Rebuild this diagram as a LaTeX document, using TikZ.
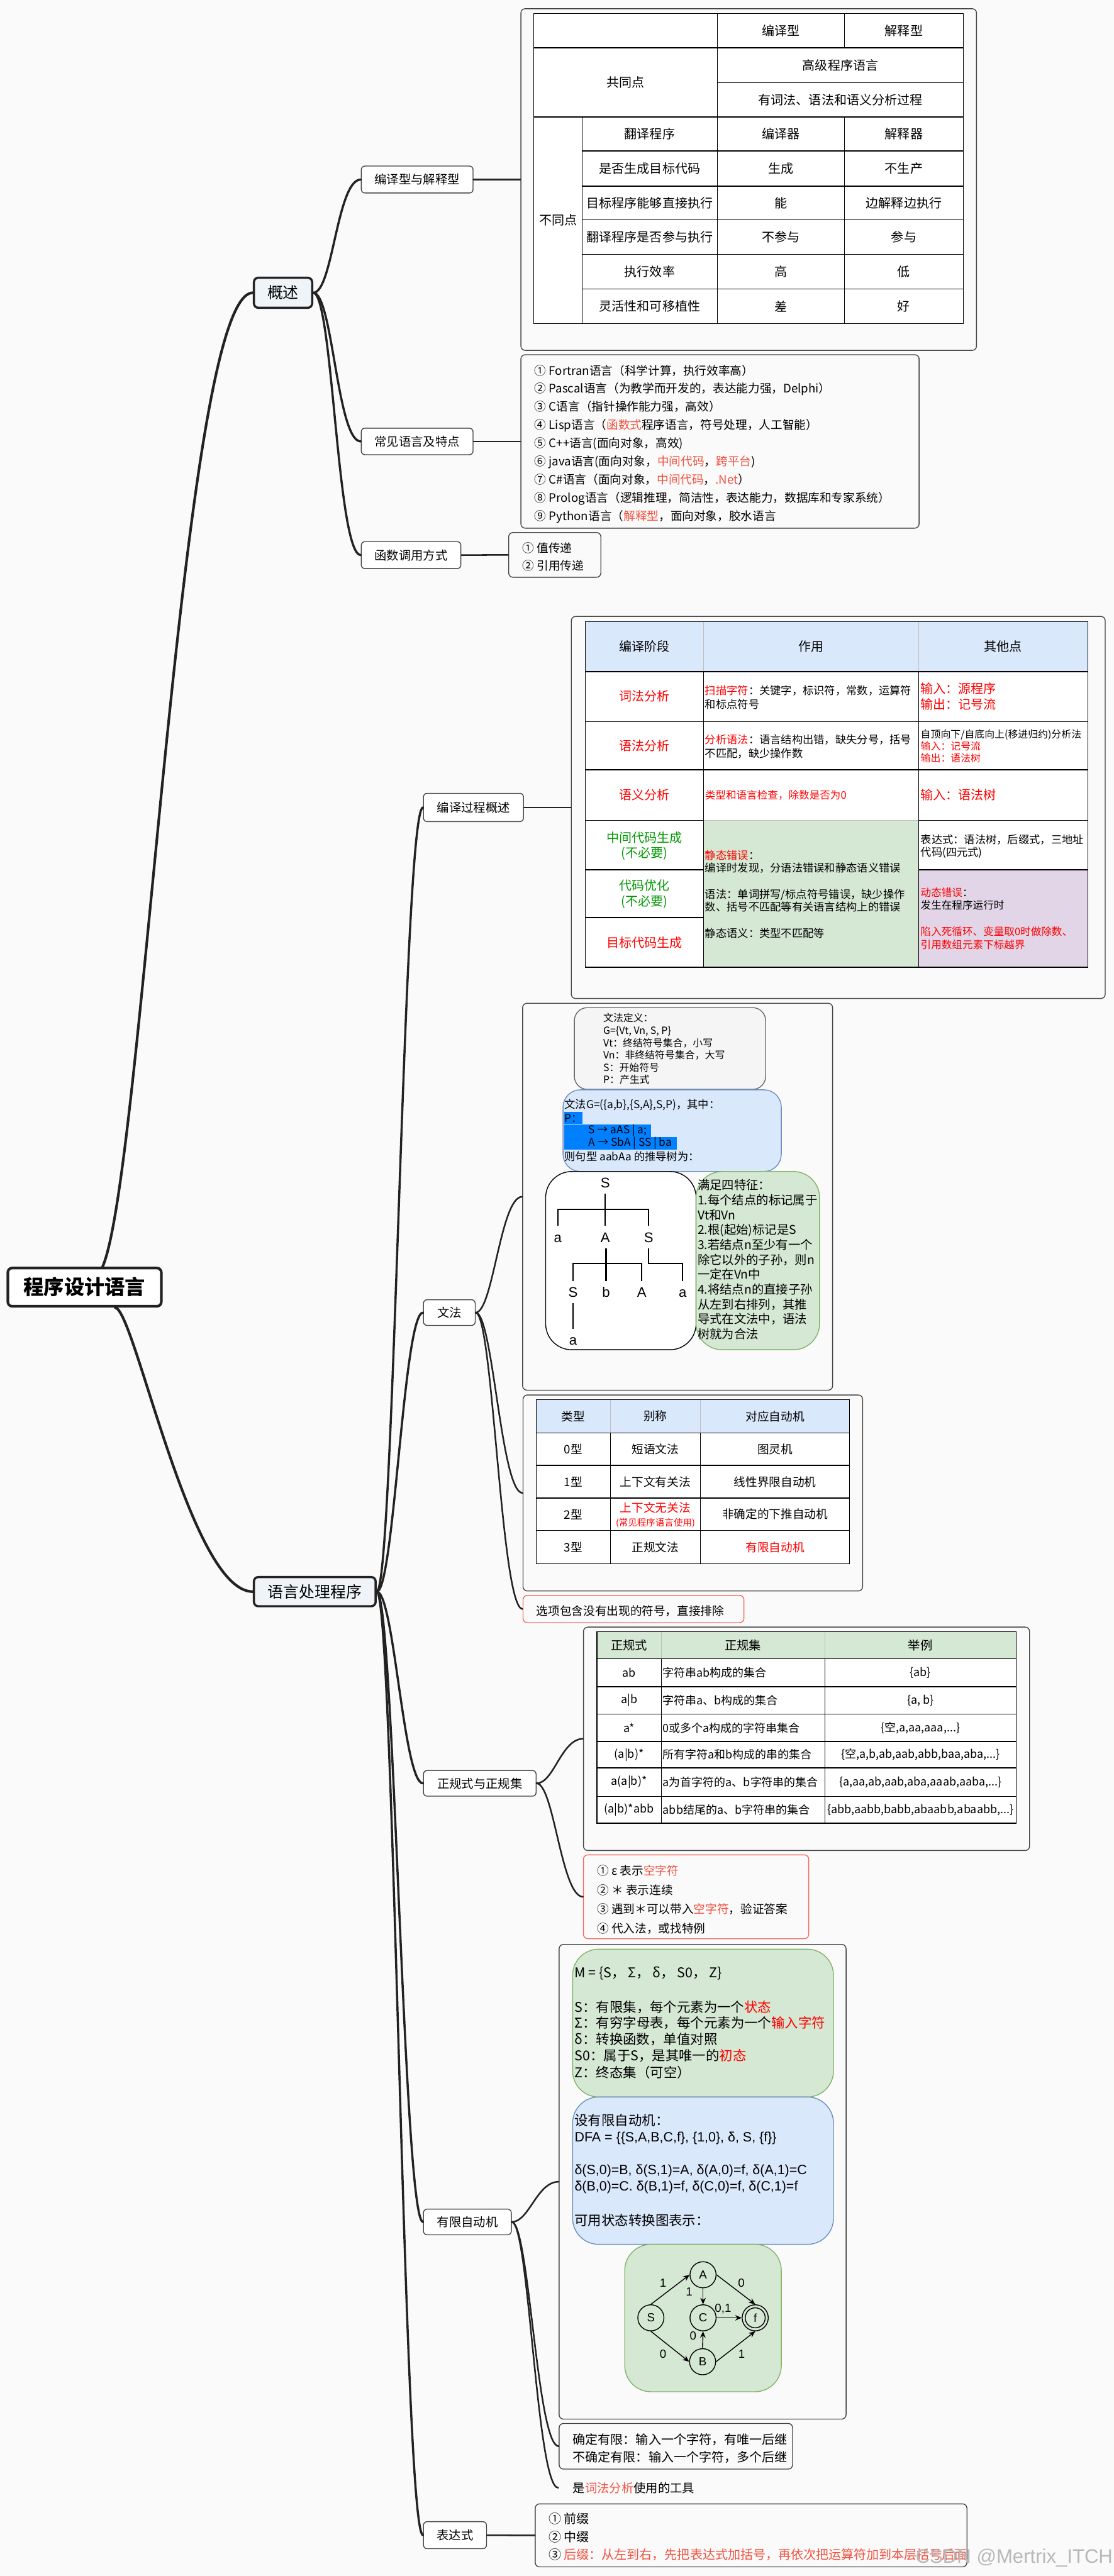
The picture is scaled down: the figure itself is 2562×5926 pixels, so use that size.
\documentclass[tikz,border=0pt]{standalone}
\usepackage{fontspec}
\setmainfont{Noto Sans CJK SC}
\newfontfamily\lsans{Liberation Sans}
\usetikzlibrary{arrows.meta,calc}
\definecolor{bgc}{HTML}{FAFAFA}
\definecolor{lc}{HTML}{222222}
\definecolor{xred}{HTML}{F2503E}
\definecolor{tred}{HTML}{FF0000}
\definecolor{tgreen}{HTML}{009900}
\definecolor{bfill}{HTML}{DAE8FC}
\definecolor{bline}{HTML}{6C8EBF}
\definecolor{gfill}{HTML}{D5E8D4}
\definecolor{gline}{HTML}{82B366}
\definecolor{pfill}{HTML}{E1D5E7}
\definecolor{grfill}{HTML}{F5F5F5}
\definecolor{grline}{HTML}{666666}
\definecolor{hl}{HTML}{007FFF}
\definecolor{mfill}{HTML}{EEF4F8}
\definecolor{rbox}{HTML}{F26B5E}
\newcommand\tr[1]{\textcolor{tred}{#1}}
\newcommand\xr[1]{\textcolor{xred}{#1}}
\newcommand\tg[1]{\textcolor{tgreen}{#1}}
\tikzset{
  fs/.style 2 args={font=\fontsize{#1}{#2}\selectfont},
  rootnode/.style={draw=lc, line width=1.8pt, fill=white, rounded corners=3pt, inner sep=0pt, font=\fontsize{14}{16}\selectfont\bfseries},
  mainnode/.style={draw=lc, line width=1.5pt, fill=mfill, rounded corners=3pt, inner sep=0pt, font=\fontsize{10.8}{13}\selectfont},
  subnode/.style={draw=lc!85, line width=0.6pt, fill=white, rounded corners=2.5pt, inner sep=0pt, font=\fontsize{8.4}{10}\selectfont},
  panel/.style={draw=lc!85, line width=0.6pt, fill=bgc, rounded corners=3pt, inner sep=0pt},
  redpanel/.style={draw=rbox, line width=0.6pt, fill=bgc, rounded corners=3pt, inner sep=0pt},
  cA/.style={draw=lc, line width=1.8pt, line cap=round},
  cB/.style={draw=lc, line width=1.5pt, line cap=round},
  cC/.style={draw=lc, line width=1.1pt, line cap=round},
  grid/.style={draw=black, line width=0.6pt},
  lgrid/.style={draw=black!25, line width=0.6pt},
  cell/.style={inner sep=0pt, align=center},
  lbl/.style={inner sep=0pt, anchor=west},
  ml/.style={inner sep=0pt, anchor=north west, align=left},
  tn/.style={inner sep=0pt, text height=6.9pt, text depth=0pt, minimum height=15pt, font=\lsans\fontsize{9.6}{11}\selectfont},
  tl/.style={draw=black, line width=0.9pt},
  st/.style={circle, draw=black, line width=0.6pt, minimum size=18pt, inner sep=0pt, font=\lsans\fontsize{8.1}{9}\selectfont},
  el/.style={inner sep=0pt, font=\lsans\fontsize{8.1}{9}\selectfont},
  dfa/.style={draw=black, line width=0.6pt, -{Stealth[length=4.5pt,width=3.8pt]}},
  roundbox/.style={line width=0.6pt, inner sep=0pt, rounded corners=#1},
}
\begin{document}
\begin{tikzpicture}[x=0.3pt,y=-0.3pt]
\fill[bgc] (0,0) rectangle (2562,5926);
\useasboundingbox (0,0) rectangle (2562,5926);

% ---------- topic nodes ----------
\node[rootnode, minimum width=105.9pt, minimum height=26.4pt] (root) at (194.5,2961) {程序设计语言};
\node[mainnode, minimum width=40.2pt, minimum height=20.7pt] (gs) at (651,673.5) {概述};
\node[mainnode, minimum width=84pt, minimum height=20.1pt] (yy) at (724,3661.5) {语言处理程序};

\node[subnode, minimum width=77.1pt, minimum height=18.6pt] (n1) at (959.5,413) {编译型与解释型};
\node[subnode, minimum width=77.1pt, minimum height=18.3pt] (n2) at (959.5,1015.5) {常见语言及特点};
\node[subnode, minimum width=68.7pt, minimum height=18.6pt] (n3) at (945.5,1277) {函数调用方式};
\node[subnode, minimum width=69pt, minimum height=19.5pt] (m1) at (1089,1857.5) {编译过程概述};
\node[subnode, minimum width=35.7pt, minimum height=17.7pt] (m2) at (1033.5,3019.5) {文法};
\node[subnode, minimum width=77.7pt, minimum height=17.7pt] (m3) at (1103.5,4102.5) {正规式与正规集};
\node[subnode, minimum width=60.6pt, minimum height=17.7pt] (m4) at (1075,5111.5) {有限自动机};
\node[subnode, minimum width=43.5pt, minimum height=18.6pt] (m5) at (1046.5,5832) {表达式};

% ---------- panels ----------
\node[panel, minimum width=314.4pt, minimum height=235.8pt] (p1) at (1722,413) {};
\node[panel, minimum width=274.8pt, minimum height=119.7pt] (p2) at (1656,1015.5) {};
\node[panel, minimum width=63.6pt, minimum height=30.9pt] (p3) at (1276,1276.5) {};
\node[panel, minimum width=368.4pt, minimum height=263.7pt] (p4) at (1928,1857.5) {};
\node[panel, minimum width=213.9pt, minimum height=267pt] (p5) at (1558.5,2753) {};
\node[panel, minimum width=234.3pt, minimum height=135.3pt] (p6) at (1593.5,3434.5) {};
\node[redpanel, minimum width=152.4pt, minimum height=18.9pt] (p7) at (1457,3701.5) {};
\node[panel, minimum width=307.8pt, minimum height=154.2pt] (p8) at (1855,4000) {};
\node[redpanel, minimum width=155.4pt, minimum height=57.9pt] (p9) at (1601,4363.5) {};
\node[panel, minimum width=198pt, minimum height=327.6pt] (p10) at (1616,5019) {};
\node[panel, minimum width=161.1pt, minimum height=31.5pt] (p11) at (1554.5,5627.5) {};
\node[anchor=west, inner xsep=9.9pt, inner ysep=0pt, fs={8.4}{10}] (p12) at (1284,5723) {是\xr{词法分析}使用的工具};
\node[panel, minimum width=297.9pt, minimum height=43.5pt] (p13) at (1727.5,5832.5) {};

% ---------- connectors ----------
\draw[cA] ($(root.north)+(41.5,0)$) .. controls +(94,-217) and +(-164,0) .. (gs.west);
\draw[cA] ($(root.south)+(70.5,0)$) .. controls +(45,5) and +(-144,0) .. (yy.west);
\foreach \t in {n1,n2,n3} \draw[cB] (gs.east) .. controls +(45,0) and +(-55,0) .. (\t.west);
\foreach \t in {m1,m2,m3,m4,m5} \draw[cB] (yy.east) .. controls +(40,0) and +(-45,0) .. (\t.west);
\draw[cC] (n1.east) -- (p1.west);
\draw[cC] (n2.east) -- (p2.west);
\draw[cC] (n3.east) -- (p3.west);
\draw[cC] (m1.east) -- (p4.west);
\foreach \t in {p5,p6,p7} \draw[cC] (m2.east) .. controls +(40,0) and +(-50,0) .. (\t.west);
\foreach \t in {p8,p9} \draw[cC] (m3.east) .. controls +(40,0) and +(-50,0) .. (\t.west);
\foreach \t in {p10,p11,p12} \draw[cC] (m4.east) .. controls +(40,0) and +(-50,0) .. (\t.west);
\draw[cC] (m5.east) -- (p13.west);

% ---------- table 1 ----------
\fill[white] (1228,31) rectangle (2216,744);
\draw[grid] (1228,31) rectangle (2216,744);
\draw[grid] (1228,110) -- (2216,110);
\draw[grid] (1650,190) -- (2216,190);
\draw[grid] (1228,269) -- (2216,269);
\foreach \y in {347,428,506,585,665} \draw[grid] (1339,\y) -- (2216,\y);
\draw[grid] (1339,269) -- (1339,744);
\draw[grid] (1650,31) -- (1650,744);
\draw[grid] (1942,31) -- (1942,110);
\draw[grid] (1942,269) -- (1942,744);
\begin{scope}[every node/.style={cell, fs={8.7}{10}}]
\node (h1) at (1796,70.5) {编译型};
\node (h2) at (2079,70.5) {解释型};
\node (g0) at (1439,190) {共同点};
\node (g1) at (1933,150) {高级程序语言};
\node (g2) at (1933,229.5) {有词法、语法和语义分析过程};
\node (d0) at (1283.5,506) {不同点};
\foreach \y/\a/\b/\c [count=\i] in {308/翻译程序/编译器/解释器, 387.5/是否生成目标代码/生成/不生产, 467/目标程序能够直接执行/能/边解释边执行, 545.5/翻译程序是否参与执行/不参与/参与, 625/执行效率/高/低, 704.5/灵活性和可移植性/差/好}{
  \node (ra\i) at (1494.5,\y) {\a};
  \node (rb\i) at (1796,\y) {\b};
  \node (rc\i) at (2079,\y) {\c};
}
\end{scope}

% ---------- languages ----------
\node[ml, fs={8.1}{12.56}] (langs) at (1229,838.5) {%
① Fortran语言（科学计算，执行效率高）\\
② Pascal语言（为教学而开发的，表达能力强，Delphi）\\
③ C语言（指针操作能力强，高效）\\
④ Lisp语言（\xr{函数式}程序语言，符号处理，人工智能）\\
⑤ C++语言(面向对象，高效)\\
⑥ java语言(面向对象，\xr{中间代码}，\xr{跨平台})\\
⑦ C\#语言（面向对象，\xr{中间代码}，\xr{.Net}）\\
⑧ Prolog语言（逻辑推理，简洁性，表达能力，数据库和专家系统）\\
⑨ Python语言（\xr{解释型}，面向对象，胶水语言};
\node[ml, fs={8.1}{12.3}] (calls) at (1201,1247.5) {① 值传递\\② 引用传递};

% ---------- compile table ----------
\fill[white] (1346,1430) rectangle (2502,2225);
\fill[bfill] (1346,1430) rectangle (2502,1545);
\fill[gfill] (1618,1887) rectangle (2113,2225);
\fill[pfill] (2113,2001) rectangle (2502,2225);
\draw[lgrid] (1618,1430) -- (1618,1545);
\draw[lgrid] (2113,1430) -- (2113,1545);
\draw[lgrid] (1618,1887) -- (2113,1887);
\draw[grid] (1346,1430) rectangle (2502,2225);
\foreach \y in {1545,1660,1771} \draw[grid] (1346,\y) -- (2502,\y);
\draw[grid] (1346,1887) -- (1618,1887);
\draw[grid] (2113,1887) -- (2502,1887);
\draw[grid] (1346,2001) -- (1618,2001);
\draw[grid] (2113,2001) -- (2502,2001);
\draw[grid] (1346,2111) -- (1618,2111);
\draw[grid] (1618,1545) -- (1618,2225);
\draw[grid] (2113,1545) -- (2113,2225);
\begin{scope}[every node/.append style={fs={8.7}{10.8}}]
\node[cell] (ch1) at (1482,1487) {编译阶段};
\node[cell] (ch2) at (1865.5,1487) {作用};
\node[cell] (ch3) at (2307.5,1487) {其他点};
\node[cell] (cs1) at (1482,1602) {\tr{词法分析}};
\node[cell] (cs2) at (1482,1715) {\tr{语法分析}};
\node[cell] (cs3) at (1482,1829) {\tr{语义分析}};
\node[cell] (cs4) at (1482,1946) {\tg{中间代码生成}\\\tg{(不必要)}};
\node[cell] (cs5) at (1482,2057) {\tg{代码优化}\\\tg{(不必要)}};
\node[cell] (cs6) at (1482,2169) {\tr{目标代码生成}};
\node[ml] (co1) at (2117,1570.5) {\tr{输入：源程序}\\\tr{输出：记号流}};
\node[lbl] (co3) at (2117,1829) {\tr{输入：语法树}};
\end{scope}
\node[ml, fs={7.5}{9.6}] (cw1) at (1621,1575.5) {\tr{扫描字符}：关键字，标识符，常数，运算符\\和标点符号};
\node[ml, fs={7.5}{9.3}] (cw2) at (1621,1689.5) {\tr{分析语法}：语言结构出错，缺失分号，括号\\不匹配，缺少操作数};
\node[lbl, fs={7.2}{9}] (cw3) at (1621,1829) {\tr{类型和语言检查，除数是否为0}};
\node[ml, fs={7.5}{9}] (cw4) at (1621,1954.5) {\tr{静态错误}：\\编译时发现，分语法错误和静态语义错误\\[9pt]语法：单词拼写/标点符号错误，缺少操作\\数、括号不匹配等有关语言结构上的错误\\[9pt]静态语义：类型不匹配等};
\node[ml, fs={6.9}{8.25}] (co2) at (2117,1677.5) {自顶向下/自底向上(移进归约)分析法\\\tr{输入：记号流}\\\tr{输出：语法树}};
\node[ml, fs={7.5}{9}] (co4) at (2117,1918.5) {表达式：语法树，后缀式，三地址\\代码(四元式)};
\node[ml, fs={7.2}{9}] (co5) at (2117,2041) {\tr{动态错误}：\\发生在程序运行时\\[9pt]\tr{陷入死循环、变量取0时做除数、}\\\tr{引用数组元素下标越界}};

% ---------- grammar ----------
\node[roundbox=9pt, draw=grline, fill=grfill, minimum width=132pt, minimum height=56.4pt] (gdef) at (1541,2412) {};
\node[ml, fs={6.9}{8.52}] (gdeft) at (1387,2330.5) {文法定义：\\G=\{Vt, Vn, S, P\}\\Vt：终结符号集合，小写\\Vn：非终结符号集合，大写\\S：开始符号\\P：产生式};
\node[roundbox=12pt, draw=bline, fill=bfill, minimum width=150.6pt, minimum height=56.4pt] (gex) at (1546,2601) {};
\fill[hl] (1298,2558) rectangle (1339,2586);
\fill[hl] (1298,2587) rectangle (1498,2616);
\fill[hl] (1298,2616) rectangle (1557,2645);
\begin{scope}[every node/.append style={lbl, fs={7.5}{9}}]
\node (gb1) at (1298,2542) {文法G=(\{a,b\},\{S,A\},S,P)，其中：};
\node (gb2) at (1298,2572) {P：};
\node (gb3) at (1353,2601) {S → aAS | a;};
\node (gb4) at (1353,2630) {A → SbA | SS | ba};
\node (gb5) at (1298,2661) {则句型 aabAa 的推导树为：};
\end{scope}
\node[roundbox=18pt, draw=black, fill=white, minimum width=103.8pt, minimum height=123pt] (tbox) at (1428,2900) {};
\node[roundbox=18pt, draw=gline, fill=gfill, minimum width=85.2pt, minimum height=123pt] (fbox) at (1743,2900) {};
\node[ml, fs={8.4}{10.26}] (feat) at (1604,2713) {满足四特征：\\1.每个结点的标记属于\\Vt和Vn\\2.根(起始)标记是S\\3.若结点n至少有一个\\除它以外的子孙，则n\\一定在Vn中\\4.将结点n的直接子孙\\从左到右排列，其推\\导式在文法中，语法\\树就为合法};
\node[tn] (T0) at (1392,2720) {S};
\node[tn] (T1) at (1283,2846) {a};
\node[tn] (T2) at (1392,2846) {A};
\node[tn] (T3) at (1492,2846) {S};
\node[tn] (T4) at (1318,2972) {S};
\node[tn] (T5) at (1394,2972) {b};
\node[tn] (T6) at (1476,2972) {A};
\node[tn] (T7) at (1570,2972) {a};
\node[tn] (T8) at (1318,3083) {a};
\draw[tl] (T0.south) -- (T2.north);
\draw[tl] (T1.north) -- (T1.north |- 0,2782) -- (T3.north |- 0,2782) -- (T3.north);
\draw[tl] (T2.south -| T5.north) -- (T5.north);
\draw[tl] (T4.north) -- (T4.north |- 0,2907) -- (T6.north |- 0,2907) -- (T6.north);
\draw[tl] (T3.south) -- (T3.south |- 0,2907) -- (T7.north |- 0,2907) -- (T7.north);
\draw[tl] (T4.south) -- (T8.north);

% ---------- types table ----------
\fill[white] (1233,3220) rectangle (1954,3597);
\fill[bfill] (1233,3220) rectangle (1954,3296);
\draw[lgrid] (1404,3220) -- (1404,3296);
\draw[lgrid] (1611,3220) -- (1611,3296);
\draw[grid] (1233,3220) rectangle (1954,3597);
\foreach \y in {3296,3371,3446,3521} \draw[grid] (1233,\y) -- (1954,\y);
\draw[grid] (1404,3296) -- (1404,3597);
\draw[grid] (1611,3296) -- (1611,3597);
\begin{scope}[every node/.append style={cell, fs={8.1}{10}}]
\node (y1) at (1318.5,3258) {类型};
\node (y2) at (1507.5,3258) {别称};
\node (y3) at (1782.5,3258) {对应自动机};
\node (y4) at (1318.5,3333.5) {0型};
\node (y5) at (1507.5,3333.5) {短语文法};
\node (y6) at (1782.5,3333.5) {图灵机};
\node (y7) at (1318.5,3408.5) {1型};
\node (y8) at (1507.5,3408.5) {上下文有关法};
\node (y9) at (1782.5,3408.5) {线性界限自动机};
\node (y10) at (1318.5,3483.5) {2型};
\node (y11) at (1507.5,3468) {\tr{上下文无关法}};
\node (y13) at (1782.5,3483.5) {非确定的下推自动机};
\node (y14) at (1318.5,3559) {3型};
\node (y15) at (1507.5,3559) {正规文法};
\node (y16) at (1782.5,3559) {\tr{有限自动机}};
\end{scope}
\node[cell, fs={6.3}{7}] (y12) at (1507.5,3504) {\tr{(常见程序语言使用)}};
\node[lbl, fs={8.1}{10}] (p7t) at (1233,3706) {选项包含没有出现的符号，直接排除};

% ---------- regex table ----------
\fill[white] (1373,3754) rectangle (2337,4194);
\fill[gfill] (1373,3754) rectangle (2337,3816);
\draw[lgrid] (1521,3754) -- (1521,3816);
\draw[lgrid] (1897,3754) -- (1897,3816);
\draw[grid] (1373,3754) rectangle (2337,4194);
\foreach \y in {3816,3880,3943,4006,4067,4133} \draw[grid] (1373,\y) -- (2337,\y);
\draw[grid] (1521,3816) -- (1521,4194);
\draw[grid] (1897,3816) -- (1897,4194);
\begin{scope}[every node/.append style={cell, fs={8.4}{10}}]
\node (x1) at (1447,3785) {正规式};
\node (x2) at (1709,3785) {正规集};
\node (x3) at (2117,3785) {举例};
\end{scope}
\begin{scope}[every node/.append style={cell, fs={7.8}{9}}]
\node (xa1) at (1447,3848) {ab};
\node (xa2) at (1447,3911.5) {a|b};
\node (xa3) at (1447,3974.5) {a*};
\node (xa4) at (1447,4036.5) {(a|b)*};
\node (xa5) at (1447,4100) {a(a|b)*};
\node (xa6) at (1447,4163.5) {(a|b)*abb};
\node (xc1) at (2117,3848) {\{ab\}};
\node (xc2) at (2117,3911.5) {\{a, b\}};
\node (xc3) at (2117,3974.5) {\{空,a,aa,aaa,...\}};
\node (xc4) at (2117,4036.5) {\{空,a,b,ab,aab,abb,baa,aba,...\}};
\node (xc5) at (2117,4100) {\{a,aa,ab,aab,aba,aaab,aaba,...\}};
\node (xc6) at (2117,4163.5) {\{abb,aabb,babb,abaabb,abaabb,...\}};
\end{scope}
\begin{scope}[every node/.append style={lbl, fs={7.8}{9}}]
\node (xb1) at (1524,3848) {字符串ab构成的集合};
\node (xb2) at (1524,3911.5) {字符串a、b构成的集合};
\node (xb3) at (1524,3974.5) {0或多个a构成的字符串集合};
\node (xb4) at (1524,4036.5) {所有字符a和b构成的串的集合};
\node (xb5) at (1524,4100) {a为首字符的a、b字符串的集合};
\node (xb6) at (1524,4163.5) {abb结尾的a、b字符串的集合};
\end{scope}
\node[ml, fs={8.1}{13.4}] (notes) at (1373,4289.5) {① ε 表示\xr{空字符}\\② ＊ 表示连续\\③ 遇到＊可以带入\xr{空字符}，验证答案\\④ 代入法，或找特例};

% ---------- finite automata ----------
\node[roundbox=18pt, draw=gline, fill=gfill, minimum width=180pt, minimum height=102pt] (fa) at (1617,4654) {};
\node[roundbox=18pt, draw=bline, fill=bfill, minimum width=180pt, minimum height=101.7pt] (fbx) at (1617,4993.5) {};
\node[roundbox=18pt, draw=gline, fill=gfill, minimum width=108pt, minimum height=101.7pt] (dbox) at (1617,5332.5) {};
\begin{scope}[every node/.append style={lbl, fs={9.3}{11}}]
\node (fa1) at (1321,4539) {M = \{S， Σ， δ， S0， Z\}};
\node (fa2) at (1321,4618) {S：有限集，每个元素为一个\tr{状态}};
\node (fa3) at (1321,4654) {Σ：有穷字母表，每个元素为一个\tr{输入字符}};
\node (fa4) at (1321,4691) {δ：转换函数，单值对照};
\node (fa5) at (1321,4729) {S0：属于S，是其唯一的\tr{初态}};
\node (fa6) at (1321,4768) {Z：终态集（可空）};
\node (fb1) at (1321,4878) {设有限自动机：};
\node (fb2) at (1321,4919) {\lsans DFA = \{\{S,A,B,C,f\}, \{1,0\}, δ, S, \{f\}\}};
\node (fb3) at (1321,4994) {\lsans δ(S,0)=B, δ(S,1)=A, δ(A,0)=f, δ(A,1)=C};
\node (fb4) at (1321,5032) {\lsans δ(B,0)=C. δ(B,1)=f, δ(C,0)=f, δ(C,1)=f};
\node (fb5) at (1321,5108) {可用状态转换图表示：};
\end{scope}
\node[st] (A) at (1617,5233) {A};
\node[st] (S) at (1497,5332) {S};
\node[st] (C) at (1617,5332) {C};
\node[st] (f) at (1737,5332) {};
\node[st, minimum size=13.8pt] (fin) at (1737,5332) {f};
\node[st] (B) at (1616,5433) {B};
\draw[dfa] (S.north) -- (A.west);
\draw[dfa] (A.south) -- (C.north);
\draw[dfa] (A.east) -- (f.north);
\draw[dfa] (C.east) -- (f.west);
\draw[dfa] (S.south) -- (B.west);
\draw[dfa] (B.north) -- (C.south);
\draw[dfa] (B.east) -- (f.south);
\node[el] (e1) at (1525,5252) {1};
\node[el] (e2) at (1585,5272) {1};
\node[el] (e3) at (1705,5252) {0};
\node[el] (e4) at (1663,5312) {0,1};
\node[el] (e5) at (1525,5416) {0};
\node[el] (e6) at (1594,5373) {0};
\node[el] (e7) at (1706,5416) {1};
\node[ml, fs={8.7}{12.3}] (dtxt) at (1317,5597.5) {确定有限：输入一个字符，有唯一后继\\不确定有限：输入一个字符，多个后继};

% ---------- expressions ----------
\node[ml, fs={8.7}{12.3}] (expr) at (1261,5780.5) {① 前缀\\② 中缀\\③ \xr{后缀：从左到右，先把表达式加括号，再依次把运算符加到本层括号后面}};

% ---------- watermark ----------
\node[anchor=east, inner sep=0pt, text=black!28, font=\lsans\fontsize{13.5}{14}\selectfont] (wm) at (2560,5884) {CSDN @Mertrix\_ITCH};
\end{tikzpicture}
\end{document}
